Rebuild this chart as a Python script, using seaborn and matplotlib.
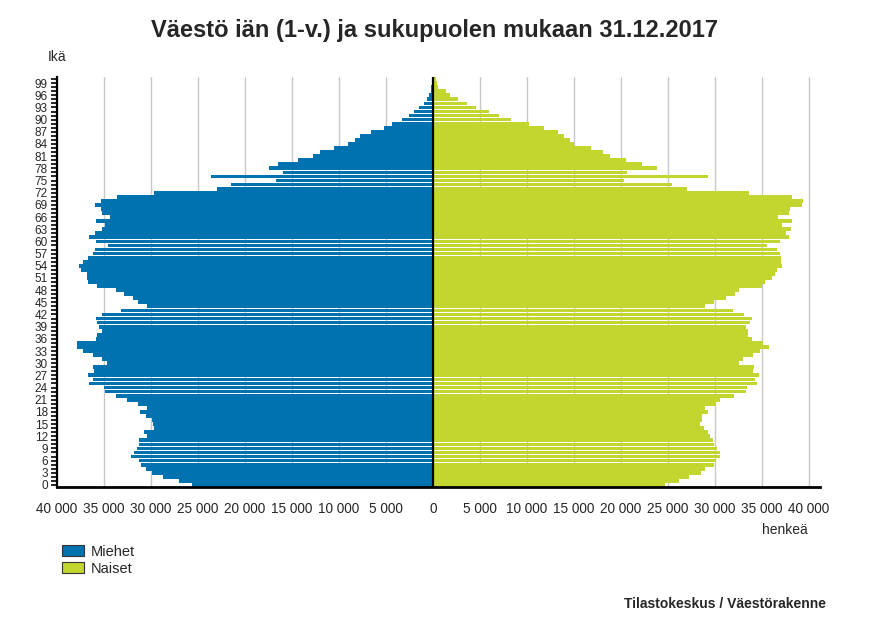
import matplotlib
matplotlib.use("Agg")
import matplotlib.pyplot as plt
import matplotlib.patches as mpatches
import pandas as pd
import seaborn as sns

# ---- data ------------------------------------------------------------------
ages = list(range(0, 101))

men = [25690, 27040, 28770, 29940, 30580, 31100, 31280, 32170, 31810, 31530,
       31280, 31280, 30470, 30790, 29690, 29760, 29870, 30580, 31180, 30470,
       31390, 32590, 33760, 34890, 35000, 36620, 36200, 36730, 36020, 36200,
       34640, 35170, 36200, 37260, 37900, 37830, 35880, 35780, 35170, 35560,
       35710, 35880, 35250, 33230, 30470, 31420, 31950, 32880, 33760, 35780,
       36730, 36770, 36840, 37470, 37610, 37230, 36730, 36200, 35990, 34610,
       35850, 36620, 35950, 35250, 34930, 35850, 34400, 35170, 35350, 36000,
       35350, 33620, 29690, 22930, 21440, 16670, 23570, 15920, 17480, 16450,
       14400, 12770, 12070, 10480, 8990, 8280, 7750, 6580, 5170, 4320,
       3260, 2550, 2020, 1450, 955, 670, 425, 260, 160, 100,
       120]

women = [24700, 26220, 27280, 28520, 28980, 29940, 30110, 30540, 30540, 30220,
         29940, 29760, 29510, 29300, 28870, 28450, 28630, 28630, 29300, 28980,
         30110, 30540, 32060, 33300, 33370, 34470, 34290, 34680, 34080, 34180,
         32520, 32940, 34080, 34780, 35780, 35070, 33940, 33550, 33480, 33300,
         33730, 33940, 33120, 31950, 28910, 29870, 31180, 32170, 32590, 35000,
         35350, 36060, 36340, 36550, 37160, 37010, 37010, 36940, 36590, 35530,
         36910, 37830, 37540, 38070, 37120, 38150, 36730, 37900, 37970, 39300,
         39390, 38180, 33620, 27040, 25440, 20350, 29270, 20670, 23850, 22260,
         20560, 18860, 18120, 16770, 14970, 14600, 13980, 13340, 11780, 10160,
         8350, 7010, 5910, 4530, 3570, 2620, 1800, 1350, 570, 400,
         300]

x_ticks = list(range(-40000, 40001, 5000))
y_ticks = list(range(0, 100, 3))

BLUE = "#0072B0"
GREEN = "#C3D62F"

sns.set_theme(style="white")
plt.rcParams["font.family"] = ["Liberation Sans", "DejaVu Sans"]

df = pd.concat([
    pd.DataFrame({"age": ages, "value": [-v for v in men], "sex": "Miehet"}),
    pd.DataFrame({"age": ages, "value": women, "sex": "Naiset"}),
], ignore_index=True)

fig = plt.figure(figsize=(8.7, 6.26), dpi=100)
ax = fig.add_axes([57 / 870, 1 - 487 / 626, (820 - 57) / 870, (487 - 77) / 626])

for xv in x_ticks:
    if xv != 0:
        ax.axvline(xv, color="#c8c8c8", lw=1.0, zorder=0)

sns.barplot(data=df, x="value", y="age", hue="sex", orient="h", native_scale=True,
            palette={"Miehet": BLUE, "Naiset": GREEN}, saturation=1, dodge=False,
            width=0.92, errorbar=None, legend=False, linewidth=0, ax=ax, zorder=2)

ax.axvline(0, color="black", lw=1.6, zorder=3)
ax.set_xlim(-40000, 41170)
ax.set_ylim(-0.5, 100.5)

ax.set_xticks(x_ticks)
ax.set_xticklabels([f"{abs(v):,}".replace(",", "\u00a0") for v in x_ticks], fontsize=9.8)
ax.set_yticks(y_ticks)
ax.set_yticklabels([str(v) for v in y_ticks], fontsize=8.5)
ax.set_yticks(ages, minor=True)
ax.tick_params(axis="x", direction="out", length=7, width=1.5, pad=4, color="black")
ax.tick_params(axis="y", which="both", direction="out", length=4.5, width=1.2,
               pad=2, color="black", left=True)
ax.set_xlabel("")
ax.set_ylabel("")

for side in ("top", "right"):
    ax.spines[side].set_visible(False)
ax.spines["left"].set_color("black")
ax.spines["left"].set_linewidth(1.6)
ax.spines["bottom"].set_color("black")
ax.spines["bottom"].set_linewidth(2.0)

fig.text(0.5, 1 - 30 / 626, "Väestö iän (1-v.) ja sukupuolen mukaan 31.12.2017",
         ha="center", va="center", fontsize=17, fontweight="bold")
fig.text(48 / 870, 1 - 57 / 626, "Ikä", ha="left", va="center", fontsize=10)
fig.text(808 / 870, 1 - 530 / 626, "henkeä", ha="right", va="center", fontsize=10)
fig.text(826 / 870, 1 - 604 / 626, "Tilastokeskus / Väestörakenne", ha="right",
         va="center", fontsize=10, fontweight="bold")

handles = [mpatches.Patch(facecolor=BLUE, edgecolor="#333333", lw=0.8, label="Miehet"),
           mpatches.Patch(facecolor=GREEN, edgecolor="#333333", lw=0.8, label="Naiset")]
fig.legend(handles=handles, loc="upper left", bbox_to_anchor=(56 / 870, 1 - 539 / 626),
           frameon=False, fontsize=10.5, handlelength=1.55, handleheight=0.8,
           handletextpad=0.4, labelspacing=0.2, borderaxespad=0)

fig.savefig("out.png", dpi=100)
